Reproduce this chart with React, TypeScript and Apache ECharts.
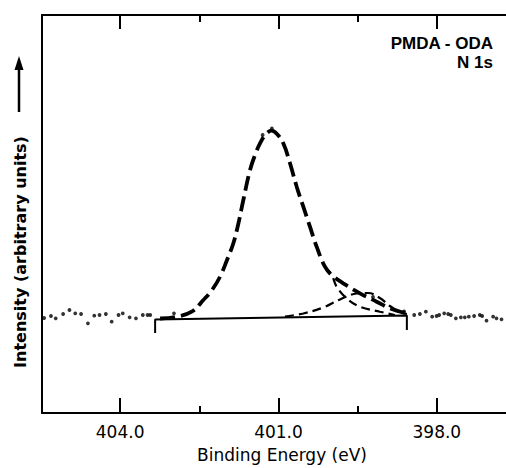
import React, { useEffect, useRef } from "react";
import * as echarts from "echarts";

// Binding energy axis (eV), tick positions
const majorTicks = [404, 401, 398];
const minorTicks = [402.5, 399.5];
const xRange = [396.69, 405.48];
const yRange = [0, 398];

// Measured points (dotted spectrum) [binding energy, intensity]
const measured: [number, number][] = [
  [405.44, 95], [405.31, 97], [405.22, 94.7], [405.08, 99], [404.96, 103],
  [404.85, 99.7], [404.74, 99], [404.61, 89.7], [404.49, 97.3], [404.39, 98],
  [404.27, 99], [404.16, 91.3], [404.03, 98], [403.95, 99.7], [403.82, 95.7],
  [403.70, 94.7], [403.57, 98], [403.48, 98], [403.43, 98], [402.98, 99.7],
  [401.30, 278], [401.125, 284.7], [399.21, 116], [398.62, 101.5],
  [398.429, 98], [398.321, 99], [398.208, 101.3], [398.089, 96.3], [398.005, 97],
  [397.956, 98], [397.861, 99.7], [397.786, 99], [397.735, 98], [397.64, 94.7],
  [397.545, 95.7], [397.47, 95.7], [397.394, 96.3], [397.294, 97], [397.186, 98],
  [397.142, 97], [397.059, 92.3], [396.934, 96.3], [396.87, 94.7], [396.775, 93.7],
];

// Fitted envelope (sum of components)
const envelope: [number, number][] = [
  [403.243, 94.5], [402.959, 96], [402.643, 101.3], [402.423, 113], [402.259, 123],
  [402.107, 136.3], [401.975, 153], [401.855, 169.7], [401.766, 188], [401.666, 213],
  [401.539, 243], [401.445, 258], [401.35, 269.7], [401.236, 279], [401.129, 282.3],
  [401.028, 279], [400.909, 269.7], [400.782, 249.7], [400.655, 226.3], [400.53, 206.3],
  [400.404, 186.3], [400.277, 166.3], [400.12, 146.3], [399.993, 138], [399.773, 129.7],
  [399.457, 119.7], [399.141, 111.3], [398.889, 104.7], [398.573, 99.7],
];

// Main component, low-energy tail where it separates from the envelope
const mainComponent: [number, number][] = [
  [400.12, 146.3], [399.993, 138], [399.898, 126.3], [399.709, 114.7],
  [399.457, 106.3], [399.079, 101.3], [398.795, 98],
];

// Minor component
const minorComponent: [number, number][] = [
  [400.877, 96.5], [400.53, 99.5], [400.152, 105.5], [399.836, 113.5], [399.52, 119.5],
  [399.306, 120], [399.079, 115], [398.889, 107], [398.7, 101], [398.567, 99],
];

// Background line with end markers
const background: [number, number][] = [
  [403.337, 80], [403.337, 93.5], [398.568, 97.5], [398.568, 83],
];

const fmt = (v: number) => v.toFixed(1);

export default function App() {
  const ref = useRef<HTMLDivElement>(null);
  useEffect(() => {
    document.body.style.margin = "0";
    if (!ref.current) return;
    const chart = echarts.init(ref.current, null, { renderer: "svg" });
    const axisBase = {
      type: "value" as const,
      min: xRange[0],
      max: xRange[1],
      inverse: true,
      splitLine: { show: false },
    };
    chart.setOption({
      animation: false,
      backgroundColor: "#fff",
      grid: { left: 42, right: 0, top: 15, bottom: 55 },
      xAxis: [
        {
          ...axisBase,
          position: "bottom",
          axisLine: { show: true, lineStyle: { color: "#000", width: 2 } },
          axisTick: { show: true, inside: true, length: 15, customValues: majorTicks, lineStyle: { color: "#000", width: 2 } },
          axisLabel: {
            show: true, customValues: majorTicks, formatter: fmt, margin: 10,
            color: "#000", fontSize: 17, fontFamily: "DejaVu Sans",
          },
        },
        {
          ...axisBase,
          position: "bottom",
          axisLine: { show: false },
          axisTick: { show: true, inside: true, length: 7, customValues: minorTicks, lineStyle: { color: "#000", width: 2 } },
          axisLabel: { show: false },
        },
        {
          ...axisBase,
          position: "top",
          axisLine: { show: true, lineStyle: { color: "#000", width: 2 } },
          axisTick: { show: true, inside: true, length: 14, customValues: majorTicks, lineStyle: { color: "#000", width: 2 } },
          axisLabel: { show: false },
        },
        {
          ...axisBase,
          position: "top",
          axisLine: { show: false },
          axisTick: { show: true, inside: true, length: 7, customValues: minorTicks, lineStyle: { color: "#000", width: 2 } },
          axisLabel: { show: false },
        },
      ],
      yAxis: {
        type: "value",
        min: yRange[0],
        max: yRange[1],
        position: "left",
        axisLine: { show: true, lineStyle: { color: "#000", width: 2 } },
        axisTick: { show: false },
        axisLabel: { show: false },
        splitLine: { show: false },
      },
      series: [
        {
          type: "line",
          data: background,
          symbol: "none",
          lineStyle: { color: "#000", width: 2 },
          z: 2,
        },
        {
          type: "line",
          data: minorComponent,
          symbol: "none",
          smooth: 0.4,
          lineStyle: { color: "#000", width: 2.2, type: [9, 5] },
          z: 3,
        },
        {
          type: "line",
          data: mainComponent,
          symbol: "none",
          smooth: 0.4,
          lineStyle: { color: "#000", width: 2.2, type: [9, 5] },
          z: 3,
        },
        {
          type: "line",
          data: envelope,
          symbol: "none",
          smooth: 0.4,
          lineStyle: { color: "#000", width: 3.8, type: [15, 6] },
          z: 4,
        },
        {
          type: "scatter",
          data: measured,
          symbol: "circle",
          symbolSize: 3.8,
          itemStyle: { color: "#000" },
          z: 5,
        },
      ],
      graphic: [
        {
          type: "text",
          style: {
            text: "PMDA - ODA", x: 493, y: 35, textAlign: "right", textVerticalAlign: "top",
            fill: "#000", font: "bold 17px 'Liberation Sans'",
          },
        },
        {
          type: "text",
          style: {
            text: "N 1s", x: 493, y: 54, textAlign: "right", textVerticalAlign: "top",
            fill: "#000", font: "bold 17px 'Liberation Sans'",
          },
        },
        {
          type: "text",
          x: 20,
          y: 252,
          rotation: Math.PI / 2,
          style: {
            text: "Intensity (arbitrary units)", x: 0, y: 0, textAlign: "center", textVerticalAlign: "middle",
            fill: "#000", font: "bold 16px 'DejaVu Sans'",
          },
        },
        {
          type: "line",
          shape: { x1: 19, y1: 112, x2: 19, y2: 66 },
          style: { stroke: "#000", lineWidth: 2.5 },
        },
        {
          type: "polygon",
          shape: { points: [[19, 56], [14.5, 70], [23.5, 70]] },
          style: { fill: "#000" },
        },
        {
          type: "text",
          style: {
            text: "Binding Energy (eV)", x: 282, y: 455, textAlign: "center", textVerticalAlign: "middle",
            fill: "#000", font: "17px 'DejaVu Sans'",
          },
        },
      ],
    });
    return () => chart.dispose();
  }, []);
  return <div ref={ref} style={{ width: 506, height: 468 }} />;
}
